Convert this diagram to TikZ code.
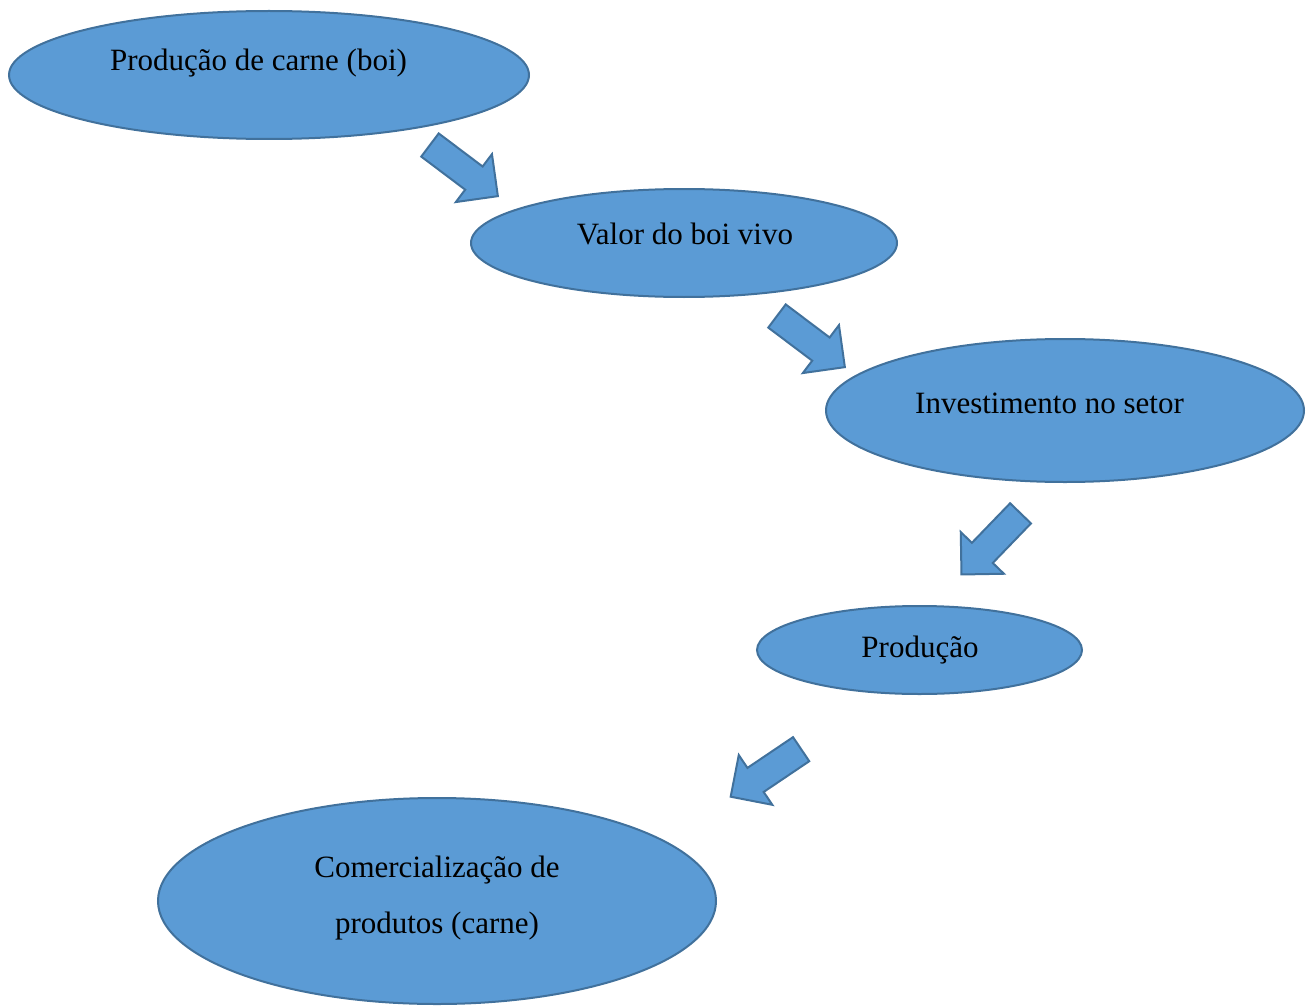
\documentclass[tikz,border=0pt]{standalone}
\usepackage{fontspec}
\setmainfont{Liberation Serif}
\usetikzlibrary{shapes.geometric,shapes.arrows}
\definecolor{bolhaazul}{RGB}{91,155,213}
\definecolor{bordaazul}{RGB}{65,113,156}
\tikzset{
  bolha/.style={ellipse, draw=bordaazul, fill=bolhaazul, line width=2pt, inner sep=0pt},
  seta/.style={single arrow, draw=bordaazul, fill=bolhaazul, line width=2pt, inner xsep=0pt, inner ysep=13.5pt,
    single arrow head extend=15.5pt, single arrow tip angle=90, minimum height=85pt, anchor=tip},
  rotulo/.style={font=\fontsize{31}{56}\selectfont, inner sep=0pt, anchor=base, align=center}
}

\begin{document}
\begin{tikzpicture}[x=1pt,y=1pt,yscale=-1,xscale=1]
\useasboundingbox (0,0) rectangle (1312,1006);

%Shape: Ellipse [carne]
\node [bolha, minimum width=520pt, minimum height=128pt] (carne) at (269,75) {};
%Shape: Ellipse [valor]
\node [bolha, minimum width=426pt, minimum height=108pt] (valor) at (684,243) {};
%Shape: Ellipse [invest]
\node [bolha, minimum width=478pt, minimum height=143pt] (invest) at (1065,410.5) {};
%Shape: Ellipse [prod]
\node [bolha, minimum width=325pt, minimum height=88pt] (prod) at (919.5,650) {};
%Shape: Ellipse [comerc]
\node [bolha, minimum width=558pt, minimum height=206pt] (comerc) at (437,901) {};

%Block Arrows
\node [seta, rotate=-37] (s1) at (499,197) {};
\node [seta, rotate=-37] (s2) at (846,368) {};
\node [seta, rotate=-134] (s3) at (960.5,575.5) {};
\node [seta, rotate=-146] (s4) at (729.5,797.5) {};

% Text Node
\node [rotulo] (t1) at (258.5,71) {Produção de carne (boi)};
% Text Node
\node [rotulo] (t2) at (685,244.3) {Valor do boi vivo};
% Text Node
\node [rotulo] (t3) at (1049.5,413.3) {Investimento no setor};
% Text Node
\node [rotulo] (t4) at (920,657.3) {Produção};
% Text Node
\node [rotulo] (t5) at (437,933.3) {Comercialização de\\ produtos (carne)};

\end{tikzpicture}
\end{document}
